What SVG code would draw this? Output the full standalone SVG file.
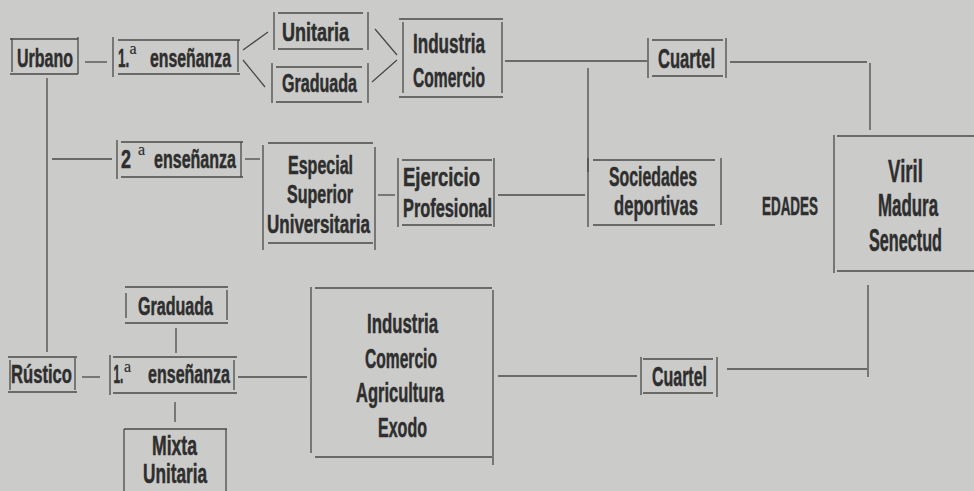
<svg xmlns="http://www.w3.org/2000/svg" width="974" height="491" viewBox="0 0 974 491">
<style>
.bg{fill:#cbcbc9}
.box{fill:none;stroke:#4a4a4a;stroke-width:1.3}
.ln{fill:none;stroke:#4a4a4a;stroke-width:1.3}
text{font-family:"Liberation Sans",Arial,sans-serif;font-weight:bold;fill:#2e2e2e;stroke:#2e2e2e;stroke-width:0.5;font-size:28px;text-anchor:middle}
.s{font-size:26px}
.m{font-size:25px}
.b{font-size:31px}
.l{text-anchor:start}
.sup{font-family:"Liberation Serif","Times New Roman",serif;font-weight:normal;stroke-width:0.2;font-size:16px;text-anchor:start}
</style>
<rect class="bg" x="0" y="0" width="974" height="491"/>

<g id="connectors">
<path class="ln" d="M85 62H107"/>
<path class="ln" d="M243 50L268 32M243 60L265 87"/>
<path class="ln" d="M375 29L397 55M372 82L397 60"/>
<path class="ln" d="M505 61H647"/>
<path class="ln" d="M588 68V172"/>
<path class="ln" d="M730 62H867M870 63V130"/>
<path class="ln" d="M47 78V352"/>
<path class="ln" d="M52 159H112"/>
<path class="ln" d="M245 159H260"/>
<path class="ln" d="M378 195H395"/>
<path class="ln" d="M498 195H585"/>
<path class="ln" d="M82 377H100"/>
<path class="ln" d="M176 328V353"/>
<path class="ln" d="M175 402V422"/>
<path class="ln" d="M238 377H307"/>
<path class="ln" d="M498 376H637"/>
<path class="ln" d="M727 369H867M868 285V377"/>
</g>

<g id="urbano">
<path class="box" d="M10 39H78M10 74H78M12 38V72M78 37V74"/>
<text x="45" y="67" class="s" textLength="56" lengthAdjust="spacingAndGlyphs">Urbano</text>
</g>

<g id="primera-urbano">
<path class="box" d="M118 40H240M118 74H240M113 37V77M238 40V72"/>
<text class="s l" transform="translate(118 67) scale(0.52 1)">1.</text>
<text class="sup" x="129.5" y="54">a</text>
<text x="190.5" y="67" class="s" textLength="81" lengthAdjust="spacingAndGlyphs">enseñanza</text>
</g>

<g id="unitaria">
<path class="box" d="M278 13H363M278 49H363M274 12V50M368 12V50"/>
<text x="315.5" y="41" class="s" textLength="67" lengthAdjust="spacingAndGlyphs">Unitaria</text>
</g>

<g id="graduada">
<path class="box" d="M276 67H362M276 102H362M272 63V103M368 63V103"/>
<text x="319.5" y="92" class="s" textLength="75" lengthAdjust="spacingAndGlyphs">Graduada</text>
</g>

<g id="industria-comercio">
<path class="box" d="M399 19H503M399 97H503M403 22V93M502 22V93"/>
<text x="449" y="53" textLength="72" lengthAdjust="spacingAndGlyphs">Industria</text>
<text x="449" y="87" textLength="72" lengthAdjust="spacingAndGlyphs">Comercio</text>
</g>

<g id="cuartel-urbano">
<path class="box" d="M652 40H723M652 76H723M648 38V78M726 38V78"/>
<text x="686.5" y="68" textLength="57" lengthAdjust="spacingAndGlyphs">Cuartel</text>
</g>

<g id="segunda">
<path class="box" d="M121 142H243M121 177H243M117 140V179M241 142V177"/>
<text x="126" y="168" class="s" textLength="10" lengthAdjust="spacingAndGlyphs">2</text>
<text class="sup" x="138" y="155">a</text>
<text x="195" y="168" class="s" textLength="82" lengthAdjust="spacingAndGlyphs">enseñanza</text>
</g>

<g id="especial">
<path class="box" d="M268 143H373M268 243H373M263 145V250M375 147V250"/>
<text x="320.5" y="174" class="m" textLength="65" lengthAdjust="spacingAndGlyphs">Especial</text>
<text x="320" y="203" class="m" textLength="66" lengthAdjust="spacingAndGlyphs">Superior</text>
<text x="318.5" y="233" class="m" textLength="103" lengthAdjust="spacingAndGlyphs">Universitaria</text>
</g>

<g id="ejercicio">
<path class="box" d="M402 160H492M402 225H492M398 158V227M494 158V227"/>
<text x="441.5" y="186" class="m" textLength="77" lengthAdjust="spacingAndGlyphs">Ejercicio</text>
<text x="447.5" y="217" class="m" textLength="89" lengthAdjust="spacingAndGlyphs">Profesional</text>
</g>

<g id="sociedades">
<path class="box" d="M593 160H715M593 225H715M588 158V227M721 158V225"/>
<text x="653" y="186" textLength="88" lengthAdjust="spacingAndGlyphs">Sociedades</text>
<text x="656" y="215" textLength="84" lengthAdjust="spacingAndGlyphs">deportivas</text>
</g>

<g id="edades">
<text x="790" y="215" class="s" textLength="56" lengthAdjust="spacingAndGlyphs">EDADES</text>
</g>

<g id="viril">
<path class="box" d="M837 136H974M837 271H974M834 135V273"/>
<text class="b" transform="translate(905.5 182) scale(0.6 1)">Viril</text>
<text class="b" transform="translate(908 216) scale(0.545 1)">Madura</text>
<text class="b" transform="translate(905.5 251) scale(0.523 1)">Senectud</text>
</g>

<g id="graduada-rustico">
<path class="box" d="M125 287H228M125 323H228M126 293V318M227 290V320"/>
<text x="175.5" y="315" class="s" textLength="75" lengthAdjust="spacingAndGlyphs">Graduada</text>
</g>

<g id="rustico">
<path class="box" d="M8 357H77M8 392H77M10 360V390M75 358V390"/>
<text x="41.5" y="383" class="s" textLength="61" lengthAdjust="spacingAndGlyphs">Rústico</text>
</g>

<g id="primera-rustico">
<path class="box" d="M113 357H237M113 393H237M110 355V395M234 360V390"/>
<text class="s l" transform="translate(113.5 383) scale(0.45 1)">1.</text>
<text class="sup" x="124" y="372">a</text>
<text x="189" y="383" class="s" textLength="82" lengthAdjust="spacingAndGlyphs">enseñanza</text>
</g>

<g id="mixta">
<path class="box" d="M124 429H227M124 429V491M226 429V491"/>
<text x="174.5" y="455" textLength="45" lengthAdjust="spacingAndGlyphs">Mixta</text>
<text x="175" y="483" textLength="64" lengthAdjust="spacingAndGlyphs">Unitaria</text>
</g>

<g id="industria-agricultura">
<path class="box" d="M315 288H492M315 457H492M311 287V453M493 290V465"/>
<text x="402.5" y="333" textLength="71" lengthAdjust="spacingAndGlyphs">Industria</text>
<text x="401" y="368" textLength="72" lengthAdjust="spacingAndGlyphs">Comercio</text>
<text x="400" y="402" textLength="88" lengthAdjust="spacingAndGlyphs">Agricultura</text>
<text x="402.5" y="437" textLength="49" lengthAdjust="spacingAndGlyphs">Exodo</text>
</g>

<g id="cuartel-rustico">
<path class="box" d="M643 359H713M643 393H713M641 357V395M717 357V397"/>
<text x="679.5" y="386" textLength="55" lengthAdjust="spacingAndGlyphs">Cuartel</text>
</g>
</svg>
